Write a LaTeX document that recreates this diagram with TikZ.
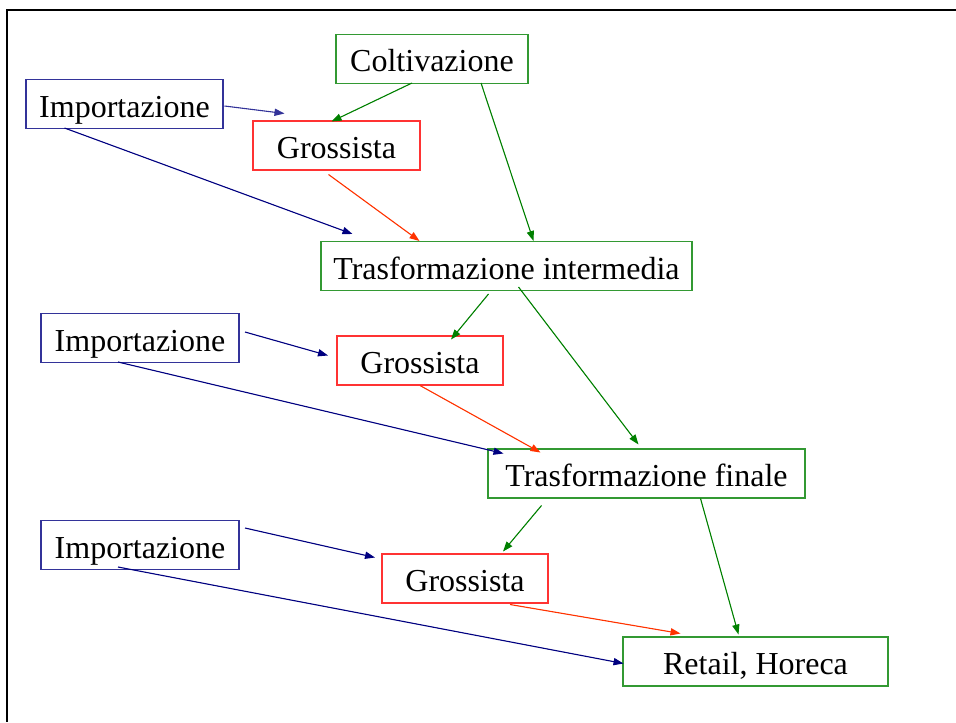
\documentclass[tikz,border=0pt]{standalone}
\usepackage{fontspec}
\setmainfont{Liberation Serif}
\usepackage{xcolor}
\usepackage{tikz}
\usetikzlibrary{arrows.meta,calc}
\definecolor{boxgreen}{HTML}{339933}
\definecolor{flowgreen}{HTML}{008000}
\definecolor{boxred}{HTML}{FF3333}
\definecolor{flowred}{HTML}{FF3300}
\definecolor{boxblue}{HTML}{333399}
\definecolor{flownavy}{HTML}{000080}
\tikzset{
    every picture/.style={line join=miter},
    stagebox/.style={draw=boxgreen,line width=0.65pt,minimum height=24.5pt,
      inner sep=0pt,text height=13pt,text depth=0pt,
      font=\fontsize{16}{19}\selectfont,align=center},
    tradebox/.style={stagebox,draw=boxred},
    importbox/.style={stagebox,draw=boxblue},
    flowarrow/.style={-{Triangle[length=5pt,width=3.6pt]},line width=0.55pt},
    greenarrow/.style={flowarrow,draw=flowgreen,fill=flowgreen},
    redarrow/.style={flowarrow,draw=flowred,fill=flowred},
    navyarrow/.style={flowarrow,draw=flownavy,fill=flownavy},
    bluearrow/.style={flowarrow,draw=boxblue,fill=boxblue}
}

\begin{document}
\begin{tikzpicture}[x=0.5pt,y=-0.5pt]
  \useasboundingbox (0,0) rectangle (956,722);
  % frame
  \draw[line width=1pt] (956,10) -- (7,10) -- (7,722);

  % nodes
  \node[stagebox,minimum width=96pt] (colt) at (432,59) {Coltivazione};
  \node[importbox,minimum width=98.5pt] (imp1) at (124.5,104) {Importazione};
  \node[tradebox,minimum width=83.5pt] (gro1) at (336.5,145.5) {Grossista};
  \node[stagebox,minimum width=185.5pt] (tint) at (506.5,266) {Trasformazione intermedia};
  \node[importbox,minimum width=99pt] (imp2) at (140,338) {Importazione};
  \node[tradebox,minimum width=83pt] (gro2) at (420,360.5) {Grossista};
  \node[stagebox,minimum width=158.5pt] (tfin) at (646.5,473.5) {Trasformazione finale};
  \node[importbox,minimum width=99pt] (imp3) at (140,545) {Importazione};
  \node[tradebox,minimum width=83pt] (gro3) at (465,578.5) {Grossista};
  \node[stagebox,minimum width=132.5pt] (ret) at (755.5,661.5) {Retail, Horeca};

  % first level
  \draw[bluearrow] ([shift={(100,2)}]imp1.center) -- ([shift={(-52,-32)}]gro1.center);
  \draw[navyarrow] ([shift={(-60,24)}]imp1.center) -- ([shift={(-154,-32)}]tint.center);
  \draw[greenarrow] ([shift={(-20,24)}]colt.center) -- ([shift={(-5,-24)}]gro1.center);
  \draw[greenarrow] ([shift={(49,24)}]colt.center) -- ([shift={(27,-25)}]tint.center);
  \draw[redarrow] ([shift={(-8,29)}]gro1.center) -- ([shift={(-87,-25)}]tint.center);

  % second level
  \draw[greenarrow] ([shift={(-18,28)}]tint.center) -- ([shift={(31,-21)}]gro2.center);
  \draw[greenarrow] ([shift={(12,21)}]tint.center) -- ([shift={(-8,-29)}]tfin.center);
  \draw[redarrow] ([shift={(0,25)}]gro2.center) -- ([shift={(-106,-21)}]tfin.center);
  \draw[navyarrow] ([shift={(105,-6)}]imp2.center) -- ([shift={(-92,-5)}]gro2.center);
  \draw[navyarrow] ([shift={(-22,24)}]imp2.center) -- ([shift={(-143,-20)}]tfin.center);

  % third level
  \draw[greenarrow] ([shift={(-105,32)}]tfin.center) -- ([shift={(38,-27)}]gro3.center);
  \draw[greenarrow] ([shift={(54,25)}]tfin.center) -- ([shift={(-17,-27)}]ret.center);
  \draw[redarrow] ([shift={(45,26)}]gro3.center) -- ([shift={(-75,-28)}]ret.center);
  \draw[navyarrow] ([shift={(105,-17)}]imp3.center) -- ([shift={(-90,-21)}]gro3.center);
  \draw[navyarrow] ([shift={(-22,22)}]imp3.center) -- ([shift={(-132,2)}]ret.center);
\end{tikzpicture}
\end{document}
